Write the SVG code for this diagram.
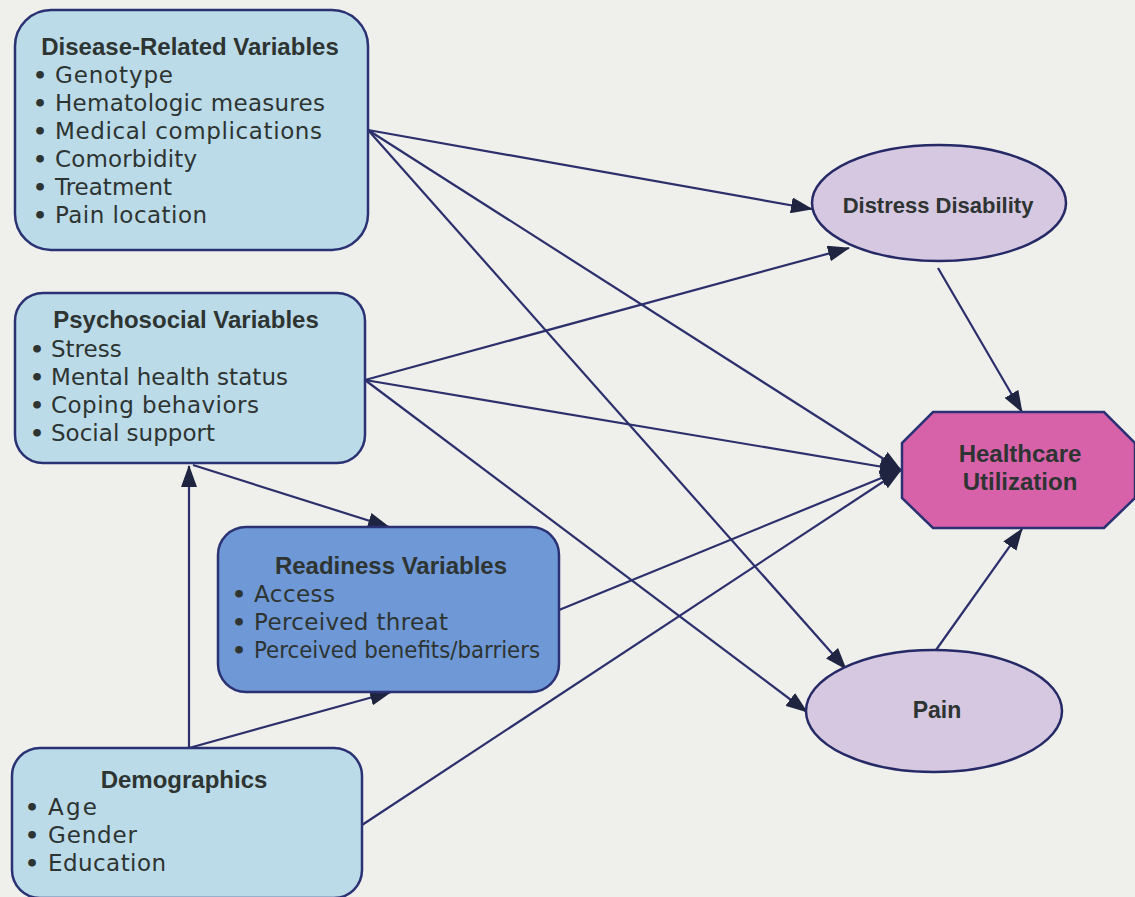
<svg xmlns="http://www.w3.org/2000/svg" width="1135" height="897" viewBox="0 0 1135 897">
<style>
.bg{fill:#efefeb}
.box{fill:#bcdbe9;stroke:#2b3274;stroke-width:2.5}
.rbox{fill:#6f98d6;stroke:#2b3274;stroke-width:2.5}
.ell{fill:#d6c8e1;stroke:#252a66;stroke-width:2.5}
.oct{fill:#d862a9;stroke:#2b3274;stroke-width:2.5}
.t{font-family:"Liberation Sans",Arial,sans-serif;font-weight:bold;font-size:24px;fill:#2d3431;text-anchor:middle}
.i{font-family:"DejaVu Sans",sans-serif;font-size:23px;fill:#2d3431}
.b{font-family:"DejaVu Sans",sans-serif;font-size:22px;fill:#2d3431;font-weight:bold}
.c line{stroke:#2b2f6b;stroke-width:2.2;marker-end:url(#ah)}
</style>
<defs>
<marker id="ah" markerUnits="userSpaceOnUse" markerWidth="22" markerHeight="16" refX="21" refY="8" orient="auto">
<path d="M0,0 L22,8 L0,16 z" fill="#1f2540"/>
</marker>
</defs>
<rect class="bg" x="0" y="0" width="1135" height="897"/>
<g id="connectors" class="c">
<line x1="368" y1="130" x2="812" y2="209"/>
<line x1="368" y1="130" x2="901" y2="470"/>
<line x1="368" y1="130" x2="846" y2="669"/>
<line x1="365" y1="380" x2="849" y2="248"/>
<line x1="365" y1="380" x2="901" y2="470"/>
<line x1="365" y1="380" x2="807" y2="712"/>
<line x1="193" y1="465" x2="389" y2="527"/>
<line x1="189" y1="748" x2="189" y2="466"/>
<line x1="189" y1="748" x2="391" y2="692"/>
<line x1="559" y1="610" x2="901" y2="470"/>
<line x1="362" y1="825" x2="901" y2="470"/>
<line x1="938" y1="268" x2="1022" y2="412"/>
<line x1="936" y1="650" x2="1022" y2="529"/>
</g>
<g id="disease">
<rect class="box" x="15" y="10" width="353" height="240" rx="36"/>
<text class="t" x="190" y="55">Disease-Related Variables</text>
<text class="b" x="33" y="83">•</text><text class="i" x="55" y="83" textLength="118" lengthAdjust="spacing">Genotype</text>
<text class="b" x="33" y="111">•</text><text class="i" x="55" y="111" textLength="270" lengthAdjust="spacing">Hematologic measures</text>
<text class="b" x="33" y="139">•</text><text class="i" x="55" y="139" textLength="267" lengthAdjust="spacing">Medical complications</text>
<text class="b" x="33" y="167">•</text><text class="i" x="55" y="167" textLength="142" lengthAdjust="spacing">Comorbidity</text>
<text class="b" x="33" y="195">•</text><text class="i" x="55" y="195">Treatment</text>
<text class="b" x="33" y="223">•</text><text class="i" x="55" y="223" textLength="152" lengthAdjust="spacing">Pain location</text>
</g>
<g id="psychosocial">
<rect class="box" x="15" y="293" width="350" height="170" rx="28"/>
<text class="t" x="186" y="328">Psychosocial Variables</text>
<text class="b" x="30" y="357">•</text><text class="i" x="51" y="357">Stress</text>
<text class="b" x="30" y="385">•</text><text class="i" x="51" y="385" textLength="237" lengthAdjust="spacing">Mental health status</text>
<text class="b" x="30" y="413">•</text><text class="i" x="51" y="413" textLength="208" lengthAdjust="spacing">Coping behaviors</text>
<text class="b" x="30" y="441">•</text><text class="i" x="51" y="441" textLength="164" lengthAdjust="spacing">Social support</text>
</g>
<g id="readiness">
<rect class="rbox" x="218" y="527" width="341" height="165" rx="28"/>
<text class="t" x="391" y="574">Readiness Variables</text>
<text class="b" x="232" y="602">•</text><text class="i" x="254" y="602" textLength="81" lengthAdjust="spacing">Access</text>
<text class="b" x="232" y="630">•</text><text class="i" x="254" y="630" textLength="194" lengthAdjust="spacing">Perceived threat</text>
<text class="b" x="232" y="658">•</text><text class="i" x="254" y="658" textLength="286" lengthAdjust="spacingAndGlyphs">Perceived benefits/barriers</text>
</g>
<g id="demographics">
<rect class="box" x="12" y="748" width="350" height="150" rx="28"/>
<text class="t" x="184" y="788">Demographics</text>
<text class="b" x="25" y="815">•</text><text class="i" x="48" y="815" textLength="49" lengthAdjust="spacing">Age</text>
<text class="b" x="25" y="843">•</text><text class="i" x="48" y="843" textLength="89" lengthAdjust="spacing">Gender</text>
<text class="b" x="25" y="871">•</text><text class="i" x="48" y="871" textLength="118" lengthAdjust="spacing">Education</text>
</g>
<g id="distress">
<ellipse class="ell" cx="939" cy="203" rx="127" ry="58"/>
<text class="t" x="938" y="213" style="font-size:22px">Distress Disability</text>
</g>
<g id="pain">
<ellipse class="ell" cx="934" cy="711" rx="128" ry="61"/>
<text class="t" x="937" y="718" style="font-size:23px">Pain</text>
</g>
<g id="healthcare">
<polygon class="oct" points="933,412 1104,412 1135,443 1135,498 1104,528 933,528 902,498 902,443"/>
<text class="t" x="1020" y="462">Healthcare</text>
<text class="t" x="1020" y="490">Utilization</text>
</g>
</svg>
